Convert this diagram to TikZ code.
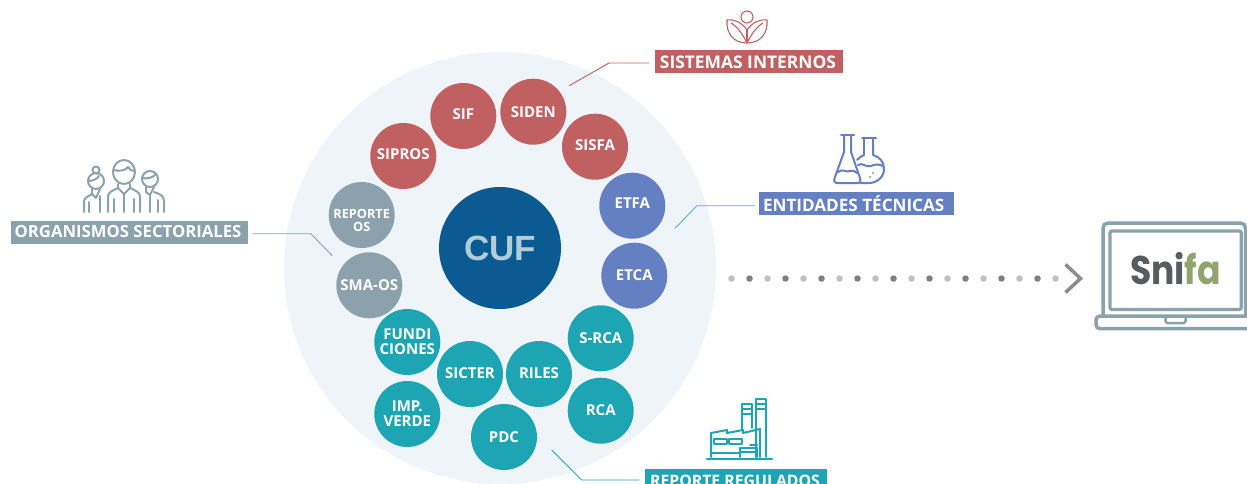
\documentclass[tikz,border=0pt]{standalone}
\usepackage{fontspec}
\setmainfont{Open Sans}
\newfontfamily\logofont{Liberation Sans}
\newfontfamily\snifafont{Poppins}
\definecolor{rojo}{HTML}{C06060}
\definecolor{azul}{HTML}{6480C2}
\definecolor{turquesa}{HTML}{1EA5B4}
\definecolor{gris}{HTML}{8BA2AC}
\definecolor{fondo}{HTML}{EFF4F9}
\definecolor{cufazul}{HTML}{0B5A92}
\definecolor{cuftexto}{HTML}{B0CDDA}
\definecolor{celeste}{HTML}{4FB3D4}
\definecolor{snigris}{HTML}{555D60}
\definecolor{faverde}{HTML}{8FA56D}
\tikzset{%
  mynode/.style={circle, fill=#1, text=white, minimum size=66pt, inner sep=0pt, align=center,
    font=\fontsize{15}{15}\selectfont\bfseries},
  mylabel/.style={fill=#1, text=white, minimum height=23pt, inner sep=0pt},
  myedge/.style={draw=#1, line width=0.9pt},
  myicon/.style={draw=#1, line width=2pt, line join=round, line cap=round},
  mydot/.style={circle, fill=#1, minimum size=6.5pt, inner sep=0pt}
}
\begin{document}
\begin{tikzpicture}[x=1pt,y=-1pt]
  \clip (0,0) rectangle (1247,484);
  \node[circle, fill=fondo, minimum size=432pt, inner sep=0pt] (ring) at (500,268) {};
  \node[circle, fill=cufazul, text=cuftexto, minimum size=122pt, inner sep=0pt,
    font=\logofont\fontsize{35}{36}\selectfont\bfseries] (cuf) at (500,248) {CUF};

  \node[mynode=rojo, text depth=4.5pt] (sif) at (463.3,116) {SIF};
  \node[mynode=rojo] (siden) at (533.3,111.7) {SIDEN};
  \node[mynode=rojo, text depth=4pt] (sisfa) at (595,146.7) {SISFA};
  \node[mynode=rojo, text depth=4.5pt] (sipros) at (403.3,156) {SIPROS};
  \node[mynode=azul, text depth=6pt] (etfa) at (632.3,205.7) {ETFA};
  \node[mynode=azul, text depth=2pt] (etca) at (634.3,275.7) {ETCA};
  \node[mynode=gris, font=\fontsize{12.7}{13}\selectfont\bfseries, text height=32pt, text depth=0pt] (reporte) at (361.7,215) {REPORTE\\OS};
  \node[mynode=gris] (smaos) at (369.3,285.3) {SMA-OS};
  \node[mynode=turquesa] (fundi) at (407.3,342) {FUNDI\\CIONES};
  \node[mynode=turquesa, text depth=1pt] (srca) at (600.7,338.3) {S-RCA};
  \node[mynode=turquesa, text depth=2.6pt] (sicter) at (470,374) {SICTER};
  \node[mynode=turquesa, text depth=2.6pt] (riles) at (539,374) {RILES};
  \node[mynode=turquesa] (imp) at (407.3,414) {IMP.\\VERDE};
  \node[mynode=turquesa, text depth=2pt] (rca) at (600.7,410.7) {RCA};
  \node[mynode=turquesa] (pdc) at (504,437) {PDC};

  \node[mylabel=rojo, minimum width=188pt, font=\fontsize{17.4}{19}\selectfont\bfseries] (internos) at (749,62) {SISTEMAS INTERNOS\kern2pt};
  \node[mylabel=azul, minimum width=195pt, font=\fontsize{17.1}{19}\selectfont\bfseries] (tecnicas) at (856.5,203.5) {ENTIDADES TÉCNICAS\kern5.6pt};
  \node[mylabel=gris, minimum width=237pt, font=\fontsize{16.7}{19}\selectfont\bfseries] (organismos) at (129.5,232) {ORGANISMOS SECTORIALES\kern3pt};
  \node[mylabel=turquesa, minimum width=182pt, font=\fontsize{15.8}{19}\selectfont\bfseries] (regulados) at (736,480.5) {REPORTE REGULADOS\kern2pt};

  \coordinate (i1) at (569.3,85.7);
  \coordinate (i2) at (609,63);
  \coordinate (i3) at (649,63);
  \coordinate (t1) at (675,228.3);
  \coordinate (t2) at (697,205.7);
  \coordinate (t3) at (755,205.7);
  \coordinate (o1) at (252.7,233.7);
  \coordinate (o2) at (310.7,233.7);
  \coordinate (o3) at (332.3,255.7);
  \coordinate (r1) at (551.7,450);
  \coordinate (r2) at (581.7,480);
  \coordinate (r3) at (639.3,480);
  \draw [myedge=rojo] (i1) -- (i2) -- (i3);
  \draw [myedge=celeste] (t1) -- (t2) -- (t3);
  \draw [myedge=gris] (o1) -- (o2) -- (o3);
  \draw [myedge=turquesa] (r1) -- (r2) -- (r3);

  \foreach \i in {0,...,9} {
    \node[mydot=black!25] (dl\i) at (731.5+36*\i,278.5) {};
  }
  \foreach \i in {0,...,8} {
    \node[mydot=black!50] (dd\i) at (749.5+36*\i,278.5) {};
  }
  \draw [draw=black!45, line width=3.5pt] (1065.5,264.5) -- (1080.5,278.5) -- (1065.5,292.5);

  % laptop
  \draw [draw=gris, line width=3.5pt, rounded corners=5pt] (1103,316) -- (1103,223) -- (1245.5,223) -- (1245.5,316);
  \draw [draw=gris, line width=3.2pt, rounded corners=2pt] (1110,231) rectangle (1241.3,309.5);
  \draw [draw=gris, line width=3.5pt, rounded corners=4pt] (1252,316) -- (1096,316) -- (1096,328.7) -- (1252,328.7);
  \draw [draw=gris, line width=2.5pt, rounded corners=2pt] (1165.5,317) -- (1165.5,323) -- (1185.5,323) -- (1185.5,317);
  \node[font=\snifafont\fontsize{40}{42}\selectfont\bfseries, inner sep=0pt, xscale=0.865, transform shape] (snifa)
    at (1175.5,269) {\textcolor{snigris}{Sni}\textcolor{faverde}{fa}};

  % personas
  \begin{scope}[myicon=gris]
    \draw (124,172) ellipse [x radius=11, y radius=12];
    \draw (113.5,170) .. controls (120,172) and (126,170) .. (128,167) .. controls (129,170) and (132,171) .. (135,171);
    \draw (108,212) -- (108,197) .. controls (108,192) and (112,191) .. (118,188) -- (118,184);
    \draw (140,212) -- (140,197) .. controls (140,192) and (136,191) .. (130,188) -- (130,184);
    \draw (118,188) -- (124,194) -- (130,188);
    \draw (124,194) -- (124,212);
    \draw (114,212) -- (114,199);
    \draw (134,212) -- (134,199);
    \draw (96,181) circle [radius=8];
    \draw (96,170) circle [radius=3.5];
    \draw (88,181) .. controls (93,181) and (97,179) .. (99,176);
    \draw (84,212) -- (84,202) .. controls (84,198) and (87,197) .. (92,194) -- (92,189);
    \draw (92,194) -- (96,198) -- (100,189);
    \draw (89,212) -- (89,202);
    \draw (100,212) -- (100,196);
    \draw (150,179) circle [radius=8];
    \draw (142,178) .. controls (147,179) and (152,178) .. (155,175);
    \draw (146,187) -- (146,192) -- (150,195) -- (154,187);
    \draw (154,192) .. controls (159,194) and (164,195) .. (164,201) -- (164,212);
    \draw (150,195) -- (150,212);
    \draw (158,212) -- (158,200);
  \end{scope}

  % loto
  \begin{scope}[draw=rojo, line width=1.1pt]
    \draw (747,17) circle [radius=6];
    \draw (747,43) .. controls (733,43) and (726,33) .. (727,20) .. controls (735,19) and (742,23) .. (747,30);
    \draw (747,43) .. controls (761,43) and (768,33) .. (767,20) .. controls (759,19) and (752,23) .. (747,30);
    \draw (747,43) .. controls (743,35) and (738,27) .. (731,23);
    \draw (747,43) .. controls (751,35) and (756,27) .. (763,23);
    \draw (747,30) -- (747,43);
  \end{scope}

  % matraces
  \begin{scope}[myicon=azul]
    \draw (841,135) -- (854,135);
    \draw (844,135) -- (844,152) -- (835,177) .. controls (833,182) and (835,183) .. (838,183) -- (857,183) .. controls (860,183) and (861,182) .. (860,178) -- (851,152) -- (851,135);
    \draw (838,172) .. controls (843,168) and (846,173) .. (850,171) .. controls (853,170) and (855,171) .. (857,173);
    \draw (862,138) -- (876,138);
    \draw (864,138) -- (864,155);
    \draw (873,138) -- (873,155) .. controls (880,157) and (884,162) .. (884,169) .. controls (884,177) and (877,183) .. (869,183) -- (860,183);
    \draw (864,155) .. controls (861,156) and (859,158) .. (857,160);
    \draw (858,165) .. controls (863,162) and (866,168) .. (871,166) .. controls (875,164) and (879,164) .. (883,166);
    \draw (873,173) -- (873.1,173);
    \draw (870,177) -- (870.1,177);
  \end{scope}

  % fabrica
  \begin{scope}[myicon=turquesa]
    \draw [line width=2.2pt] (707,459) -- (772,459);
    \draw (711,457) -- (711,433) -- (727,430) -- (727,433) -- (743,430) -- (743,433) -- (760,429) -- (760,457);
    \draw (714,439) rectangle (727,444);
    \draw (729,439) rectangle (742,444);
    \draw (711,453) -- (740,453);
    \draw (740,457) -- (740,448) -- (757,448);
    \draw (740,452) -- (757,452);
    \draw (757,448) -- (757,457);
    \draw (750,445) -- (757,445);
    \draw (742,430) -- (742,404) -- (752,404) -- (752,428);
    \draw (742,409) -- (752,409);
    \draw (742,414) -- (752,414);
    \draw (756,457) -- (756,399) -- (766,399) -- (766,457);
    \draw (756,404) -- (766,404);
    \draw (756,409) -- (766,409);
  \end{scope}
\end{tikzpicture}
\end{document}
